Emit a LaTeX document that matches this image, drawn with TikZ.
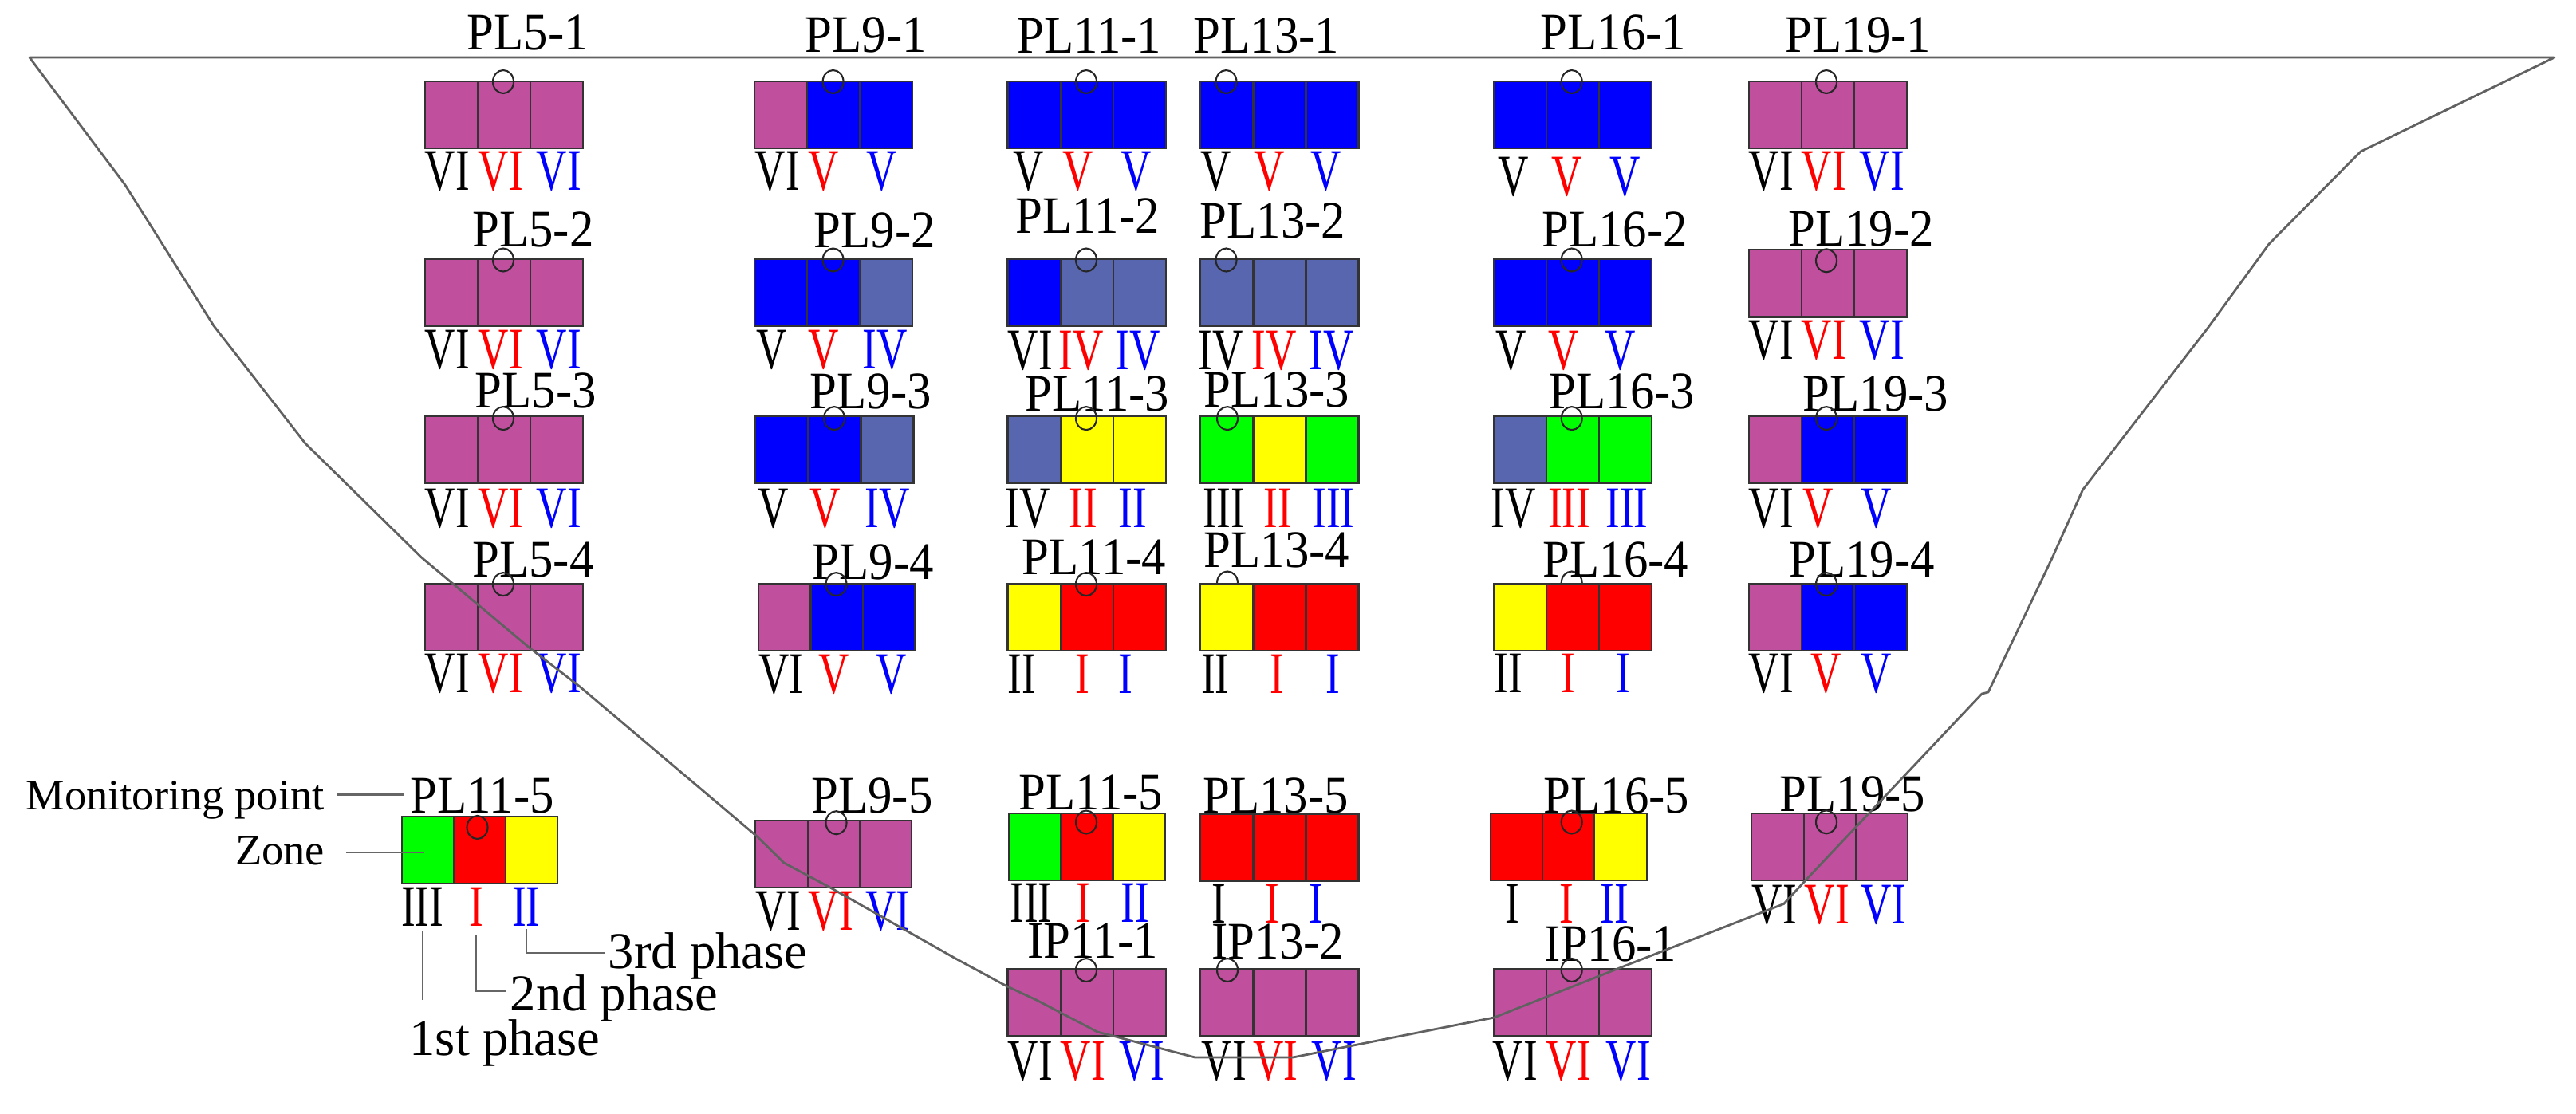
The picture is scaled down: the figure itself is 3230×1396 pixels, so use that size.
\documentclass[tikz,border=0pt]{standalone}
\usepackage{fontspec}
\setmainfont{Liberation Serif}
\newfontfamily\phasefont[FakeStretch=0.72]{Liberation Serif}
\newfontfamily\titlefont[FakeStretch=0.92]{Liberation Serif}
\usetikzlibrary{positioning}
\usetikzlibrary{shapes.geometric}
\definecolor{zvi}{RGB}{192,80,158}
\definecolor{zv}{RGB}{0,0,255}
\definecolor{ziv}{RGB}{87,102,175}
\definecolor{ziii}{RGB}{0,255,0}
\definecolor{zii}{RGB}{255,255,0}
\definecolor{zi}{RGB}{255,0,0}
\tikzset{
  cellbox/.style={shape=rectangle,draw=black!80,line width=.6pt,inner sep=0pt,outer sep=0pt,
    minimum width=.66cm,minimum height=.84cm,anchor=north west},
  narrowbox/.style={cellbox/.append style={minimum width=.652cm}},
  zonetitle/.style={inner sep=0pt,anchor=base,font=\titlefont\fontsize{18.8}{20}\selectfont},
  phasetext/.style={inner sep=0pt,anchor=base,font=\phasefont\fontsize{21}{23}\selectfont},
  notetext/.style={inner sep=0pt,anchor=base,font=\fontsize{15.5}{17}\selectfont},
  stagetext/.style={inner sep=0pt,anchor=base,font=\fontsize{18.4}{20}\selectfont},
  gauge/.style={shape=ellipse,draw=black!85,line width=.6pt,inner sep=0pt,minimum width=.26cm,minimum height=.29cm},
  leader/.style={draw=black!60,line width=.6pt},
  valley/.style={draw=black!62,line width=.8pt,line join=round}
}
\newcommand{\zonebox}[9]{%
  \node[cellbox,fill=#4] (#1-a) at (#2,#3) {};
  \node[cellbox,fill=#5,right=0pt of #1-a] (#1-b) {};
  \node[cellbox,fill=#6,right=0pt of #1-b] (#1-c) {};
  \node[zonetitle] (#1-t) at (#7,#8) {#9};
}
\newcommand{\gaugemark}[3]{\node[gauge] (#1-g) at (#2,#3) {};}
\newcommand{\phasemarks}[8]{%
  \node[phasetext] (#1-p1) at (#3,#2) {#4};
  \node[phasetext,text=red] (#1-p2) at (#5,#2) {#6};
  \node[phasetext,text=blue] (#1-p3) at (#7,#2) {#8};
}
\begin{document}
\begin{tikzpicture}[x=.01cm,y=-.01cm]
\useasboundingbox (0,0) rectangle (3230,1396);
\zonebox{pl5a}{532.6}{102}{zvi}{zvi}{zvi}{662}{62.5}{PL5-1}
\gaugemark{pl5a}{631}{102.5}
\phasemarks{pl5a}{238}{561}{VI}{628}{VI}{701}{VI}
\zonebox{pl5b}{532.6}{325}{zvi}{zvi}{zvi}{668.5}{309}{PL5-2}
\gaugemark{pl5b}{631}{326}
\phasemarks{pl5b}{462}{561}{VI}{628}{VI}{701}{VI}
\zonebox{pl5c}{532.6}{522.3}{zvi}{zvi}{zvi}{672}{511}{PL5-3}
\gaugemark{pl5c}{631}{524.6}
\phasemarks{pl5c}{661}{561}{VI}{628}{VI}{701}{VI}
\zonebox{pl5d}{532.6}{731.7}{zvi}{zvi}{zvi}{668.5}{723}{PL5-4}
\gaugemark{pl5d}{631}{732.6}
\phasemarks{pl5d}{868}{561}{VI}{628}{VI}{701}{VI}

\zonebox{pl9a}{946}{102}{zvi}{zv}{zv}{1086}{65}{PL9-1}
\gaugemark{pl9a}{1044.6}{102.5}
\phasemarks{pl9a}{238}{975}{VI}{1032.5}{V}{1106}{V}
\zonebox{pl9b}{946}{325}{zv}{zv}{ziv}{1096.7}{310}{PL9-2}
\gaugemark{pl9b}{1044.6}{326}
\phasemarks{pl9b}{462}{968}{V}{1032.5}{V}{1110}{IV}
\zonebox{pl9c}{947.4}{522.3}{zv}{zv}{ziv}{1092}{512.5}{PL9-3}
\gaugemark{pl9c}{1046}{524.6}
\phasemarks{pl9c}{661}{969.6}{V}{1035}{V}{1112.7}{IV}
\begin{scope}[narrowbox]
\zonebox{pl9d}{951.3}{731.7}{zvi}{zv}{zv}{1095}{726}{PL9-4}
\zonebox{pl9e}{947.4}{1028.6}{zvi}{zvi}{zvi}{1093.6}{1019.7}{PL9-5}
\end{scope}
\gaugemark{pl9d}{1048.5}{732.6}
\phasemarks{pl9d}{869}{979.6}{VI}{1046}{V}{1117.6}{V}
\gaugemark{pl9e}{1048.5}{1031.7}
\phasemarks{pl9e}{1166}{975.7}{VI}{1042}{VI}{1113.5}{VI}

\zonebox{pl11a}{1263.5}{102}{zv}{zv}{zv}{1366}{66}{PL11-1}
\gaugemark{pl11a}{1362}{102.5}
\phasemarks{pl11a}{238}{1289.5}{V}{1352}{V}{1425}{V}
\zonebox{pl11b}{1263.5}{325}{zv}{ziv}{ziv}{1363.8}{292}{PL11-2}
\gaugemark{pl11b}{1362}{326}
\phasemarks{pl11b}{463}{1292}{VI}{1356}{IV}{1427}{IV}
\zonebox{pl11c}{1263.5}{522.3}{ziv}{zii}{zii}{1376}{515.6}{PL11-3}
\gaugemark{pl11c}{1362}{524.6}
\phasemarks{pl11c}{661}{1289}{IV}{1358}{II}{1420}{II}
\zonebox{pl11d}{1263.5}{731.7}{zii}{zi}{zi}{1372}{720.5}{PL11-4}
\gaugemark{pl11d}{1362}{732.6}
\phasemarks{pl11d}{869}{1281}{II}{1357.6}{I}{1411}{I}
\begin{scope}[narrowbox]
\zonebox{pl11e}{1265}{1019.7}{ziii}{zi}{zii}{1368}{1015}{PL11-5}
\end{scope}
\gaugemark{pl11e}{1362}{1031}
\phasemarks{pl11e}{1156}{1293}{III}{1358}{I}{1423}{II}
\zonebox{ip11}{1263.5}{1214.8}{zvi}{zvi}{zvi}{1370}{1201.8}{IP11-1}
\gaugemark{ip11}{1362}{1216.5}
\phasemarks{ip11}{1354.5}{1292}{VI}{1358}{VI}{1432}{VI}

\zonebox{pl13a}{1505.4}{102}{zv}{zv}{zv}{1588}{66}{PL13-1}
\gaugemark{pl13a}{1537.5}{102.5}
\phasemarks{pl13a}{238}{1525}{V}{1592}{V}{1663}{V}
\zonebox{pl13b}{1505.4}{325}{ziv}{ziv}{ziv}{1596}{298}{PL13-2}
\gaugemark{pl13b}{1537.5}{326}
\phasemarks{pl13b}{463}{1531}{IV}{1598}{IV}{1670}{IV}
\zonebox{pl13c}{1505.4}{522.3}{ziii}{zii}{ziii}{1601}{510}{PL13-3}
\gaugemark{pl13c}{1539}{524.6}
\phasemarks{pl13c}{661}{1534.6}{III}{1602.5}{II}{1672}{III}
\gaugemark{pl13d}{1539}{731}
\zonebox{pl13d}{1505.4}{731.7}{zii}{zi}{zi}{1601}{711.6}{PL13-4}
\phasemarks{pl13d}{869}{1523.7}{II}{1601}{I}{1671}{I}
\zonebox{pl13e}{1505.4}{1021}{zi}{zi}{zi}{1599.5}{1019.7}{PL13-5}
\phasemarks{pl13e}{1157}{1528}{I}{1595.7}{I}{1650.7}{I}
\zonebox{ip13}{1505.4}{1214.8}{zvi}{zvi}{zvi}{1602.5}{1202.7}{IP13-2}
\gaugemark{ip13}{1539}{1216.5}
\phasemarks{ip13}{1354.5}{1535}{VI}{1599.5}{VI}{1673}{VI}

\zonebox{pl16a}{1872.7}{102}{zv}{zv}{zv}{2023}{62.5}{PL16-1}
\gaugemark{pl16a}{1970.7}{102.5}
\phasemarks{pl16a}{245}{1898}{V}{1965}{V}{2038}{V}
\zonebox{pl16b}{1872.7}{325}{zv}{zv}{zv}{2024.6}{309}{PL16-2}
\gaugemark{pl16b}{1970.7}{326}
\phasemarks{pl16b}{463}{1895}{V}{1960.7}{V}{2032}{V}
\zonebox{pl16c}{1872.7}{522.3}{ziv}{ziii}{ziii}{2034}{512}{PL16-3}
\gaugemark{pl16c}{1970.7}{524.6}
\phasemarks{pl16c}{661}{1898}{IV}{1967.6}{III}{2040}{III}
\gaugemark{pl16d}{1970.7}{731}
\zonebox{pl16d}{1872.7}{731.7}{zii}{zi}{zi}{2026}{723}{PL16-4}
\phasemarks{pl16d}{868}{1891}{II}{1966}{I}{2035}{I}
\begin{scope}[narrowbox]
\zonebox{pl16e}{1868.9}{1019.7}{zi}{zi}{zii}{2027}{1019.7}{PL16-5}
\end{scope}
\gaugemark{pl16e}{1970.7}{1031}
\phasemarks{pl16e}{1157}{1896.4}{I}{1964.5}{I}{2024}{II}
\zonebox{ip16}{1872.7}{1214.8}{zvi}{zvi}{zvi}{2019.6}{1205}{IP16-1}
\gaugemark{ip16}{1970.7}{1216.5}
\phasemarks{ip16}{1354.5}{1900}{VI}{1967}{VI}{2042}{VI}

\zonebox{pl19a}{2192.6}{102}{zvi}{zvi}{zvi}{2330}{65}{PL19-1}
\gaugemark{pl19a}{2290}{102.5}
\phasemarks{pl19a}{238}{2221}{VI}{2287}{VI}{2360}{VI}
\zonebox{pl19b}{2192.6}{313.4}{zvi}{zvi}{zvi}{2333.8}{308}{PL19-2}
\gaugemark{pl19b}{2290}{326.8}
\phasemarks{pl19b}{450}{2221}{VI}{2287}{VI}{2360}{VI}
\zonebox{pl19c}{2192.6}{522.3}{zvi}{zv}{zv}{2352}{515.6}{PL19-3}
\gaugemark{pl19c}{2290}{524.6}
\phasemarks{pl19c}{661}{2221}{VI}{2280}{V}{2353}{V}
\zonebox{pl19d}{2192.6}{731.7}{zvi}{zv}{zv}{2334.6}{723}{PL19-4}
\gaugemark{pl19d}{2290}{732.6}
\phasemarks{pl19d}{868}{2221}{VI}{2290}{V}{2353}{V}
\begin{scope}[narrowbox]
\zonebox{pl19e}{2196.4}{1019.7}{zvi}{zvi}{zvi}{2323}{1017}{PL19-5}
\end{scope}
\gaugemark{pl19e}{2290}{1030.8}
\phasemarks{pl19e}{1158}{2225}{VI}{2291}{VI}{2362}{VI}

\begin{scope}[narrowbox]
\zonebox{key}{503.6}{1024}{ziii}{zi}{zii}{604.6}{1019.7}{PL11-5}
\end{scope}
\gaugemark{key}{598.5}{1037.5}
\phasemarks{key}{1161.6}{529.6}{III}{597}{I}{659.7}{II}
\node[notetext] (monitorlab) at (219.6,1015) {Monitoring point};
\node[notetext] (zonelab) at (351,1084) {Zone};
\node[stagetext] (firstlab) at (633,1323) {1st phase};
\node[stagetext] (secondlab) at (770,1267.4) {2nd phase};
\node[stagetext] (thirdlab) at (887.7,1214) {3rd phase};
\coordinate (monitortip) at (506.6,996.5);
\coordinate (zonetip) at (532,1069);
\coordinate (firsttip) at (529.6,1254);
\coordinate (secondtip) at (635,1243);
\coordinate (thirdtip) at (757.6,1194.7);
\draw[leader,shorten <=.16cm] (monitorlab.east |- monitortip) -- (monitortip);
\draw[leader,shorten <=.26cm] (zonelab.east |- zonetip) -- (zonetip);
\draw[leader,shorten <=.06cm] (key-p1.south) -- (firsttip);
\draw[leader,shorten <=.11cm] (key-p2.south) |- (secondtip);
\draw[leader,shorten <=.03cm] (key-p3.south) |- (thirdtip);

\draw[valley] (37,72) -- (3203,72) -- (2960,190) -- (2845,306) -- (2768.5,411) -- (2611.6,614)
  -- (2573,700) -- (2493,868) -- (2485,870) -- (2263.4,1104.5) -- (2236.6,1133.5) -- (2042,1209.4)
  -- (1873.5,1276) -- (1621,1326) -- (1498.5,1326) -- (1376,1294) -- (1299.5,1254) -- (1261,1236)
  -- (1200,1203) -- (1041,1113) -- (983,1082) -- (949,1048.7) -- (727,861) -- (666,814) -- (528,698.6)
  -- (382.6,555.8) -- (268,408.5) -- (157,232) -- cycle;
\end{tikzpicture}
\end{document}
